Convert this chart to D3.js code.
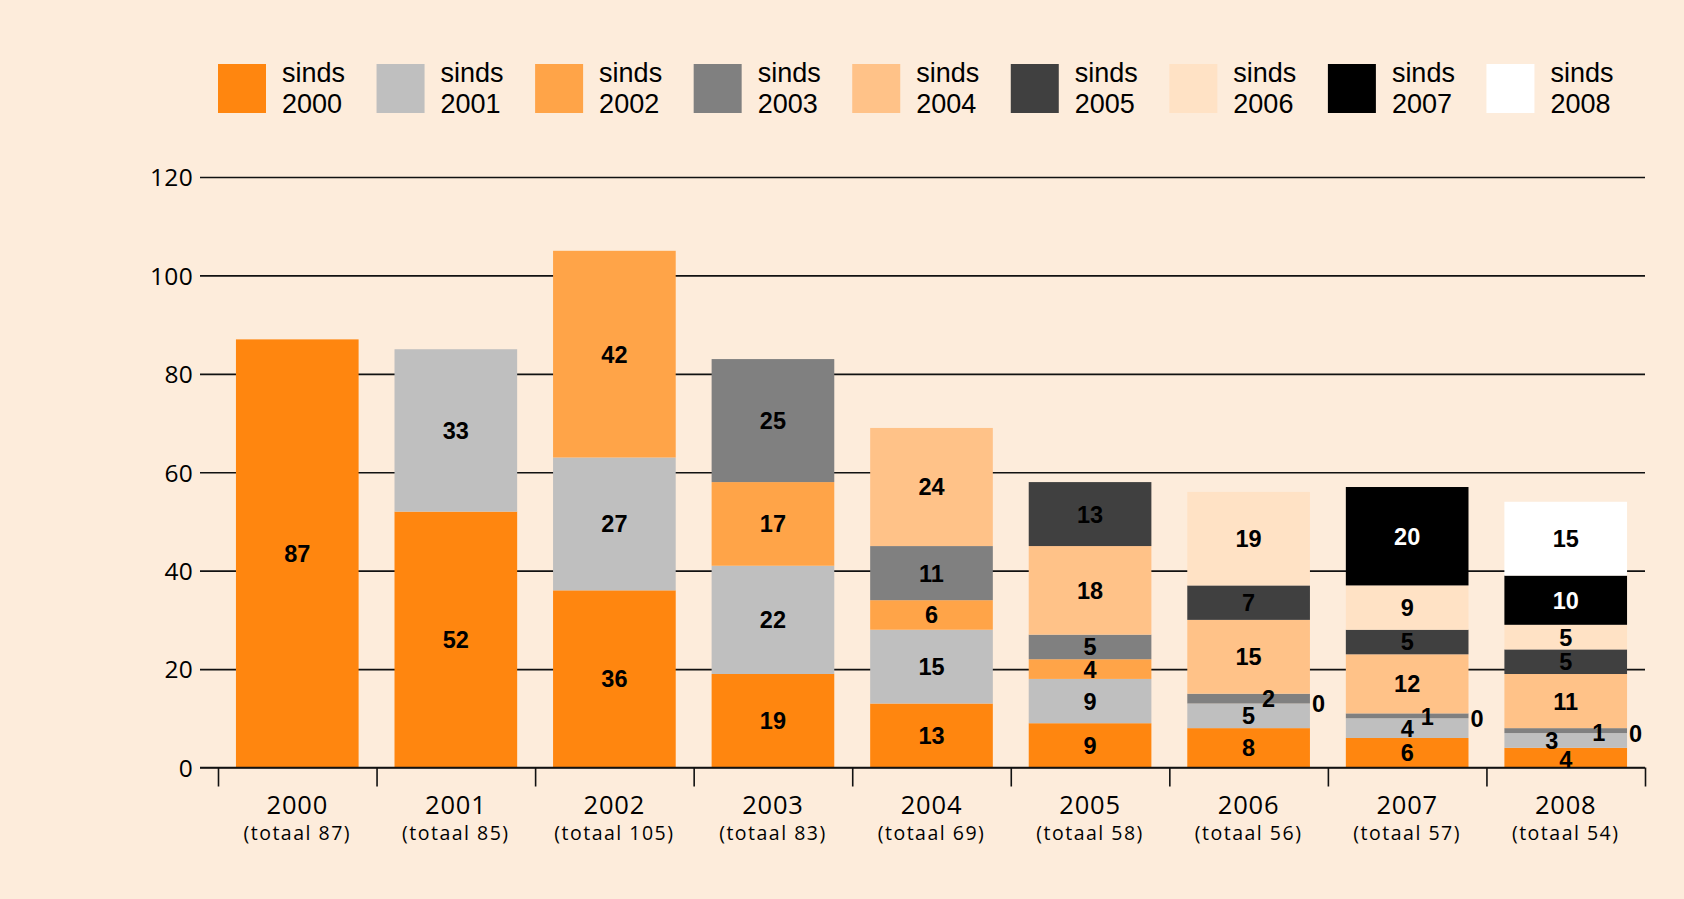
<!DOCTYPE html>
<html>
<head>
<meta charset="utf-8">
<script src="https://cdn.jsdelivr.net/npm/d3@7"></script>
<style>
  html, body { margin: 0; padding: 0; background: #FDECDB; }
  svg { display: block; }
</style>
</head>
<body>
<svg id="chart" width="1684" height="899"></svg>
<script>
// ---- data ----
const years = ["2000", "2001", "2002", "2003", "2004", "2005", "2006", "2007", "2008"];
const totals = [87, 85, 105, 83, 69, 58, 56, 57, 54];
const seriesNames = ["sinds 2000", "sinds 2001", "sinds 2002", "sinds 2003", "sinds 2004",
                     "sinds 2005", "sinds 2006", "sinds 2007", "sinds 2008"];
const sinds2000 = [87, 52, 36, 19, 13, 9, 8, 6, 4];
const sinds2001 = [null, 33, 27, 22, 15, 9, 5, 4, 3];
const sinds2002 = [null, null, 42, 17, 6, 4, 0, 0, 0];
const sinds2003 = [null, null, null, 25, 11, 5, 2, 1, 1];
const sinds2004 = [null, null, null, null, 24, 18, 15, 12, 11];
const sinds2005 = [null, null, null, null, null, 13, 7, 5, 5];
const sinds2006 = [null, null, null, null, null, null, 19, 9, 5];
const sinds2007 = [null, null, null, null, null, null, null, 20, 10];
const sinds2008 = [null, null, null, null, null, null, null, null, 15];
const yTicks = [0, 20, 40, 60, 80, 100, 120];

const seriesValues = [sinds2000, sinds2001, sinds2002, sinds2003, sinds2004,
                      sinds2005, sinds2006, sinds2007, sinds2008];

// ---- styles ----
const colors = ["#FF860F", "#BFBFBF", "#FFA448", "#808080", "#FFC288",
                "#404040", "#FFE2C5", "#000000", "#FFFFFF"];
const labelColors = ["#000", "#000", "#000", "#000", "#000", "#000", "#000", "#fff", "#000"];
// small manual nudges for crowded labels (key: yearIndex-seriesIndex)
const nudges = { "6-3": [20, 0], "7-3": [20, 1], "8-3": [33, 2], "8-1": [-14, 0], "8-0": [0, 2] };

const svg = d3.select("#chart");
const left = 200, right = 1645;
const x = d3.scaleBand().domain(years).range([218, 1645])
  .paddingInner(0.2264).paddingOuter(0.1132);
const y = d3.scaleLinear().domain([0, 120]).range([767.5, 177]);

const tableRows = years.map((yr, i) => {
  const row = { year: yr };
  seriesNames.forEach((s, j) => { row[s] = seriesValues[j][i] == null ? 0 : seriesValues[j][i]; });
  return row;
});
const stacked = d3.stack().keys(seriesNames)(tableRows);

const axisFont = "'Open Sans', 'Liberation Sans', sans-serif";

// gridlines / y axis
const yAxis = svg.append("g")
  .attr("transform", `translate(${left},0)`)
  .call(d3.axisLeft(y).tickValues(yTicks).tickSize(-(right - left)).tickPadding(7));
yAxis.select(".domain").remove();
yAxis.selectAll(".tick line").attr("stroke", "#111").attr("stroke-width", 1.6);
yAxis.selectAll(".tick text").attr("font-family", axisFont).attr("font-size", 24.5)
  .attr("letter-spacing", 0.3).attr("fill", "#000").attr("dy", "0.36em");

// bars
stacked.forEach((layer, j) => {
  svg.append("g").selectAll("rect")
    .data(layer.filter((d, i) => seriesValues[j][i] != null))
    .join("rect")
    .attr("x", d => x(d.data.year))
    .attr("width", x.bandwidth())
    .attr("y", d => y(d[1]))
    .attr("height", d => y(d[0]) - y(d[1]))
    .attr("fill", colors[j]);
});

// x axis ticks at band boundaries
const boundary = d3.scaleLinear().domain([0, years.length]).range(x.range());
const xAxis = svg.append("g")
  .attr("transform", `translate(0,${y(0)})`)
  .call(d3.axisBottom(boundary).tickValues(d3.range(years.length + 1)).tickSize(19).tickFormat(""));
xAxis.select(".domain").remove();
xAxis.selectAll(".tick line").attr("stroke", "#111").attr("stroke-width", 1.6);
// baseline over bars
svg.append("line").attr("x1", left).attr("x2", right).attr("y1", y(0)).attr("y2", y(0))
  .attr("stroke", "#111").attr("stroke-width", 1.6);

// x labels
const xl = svg.append("g");
years.forEach((yr, i) => {
  const cx = x(yr) + x.bandwidth() / 2;
  xl.append("text").attr("x", cx).attr("y", 814).attr("text-anchor", "middle")
    .attr("font-family", axisFont).attr("font-size", 25.5).attr("letter-spacing", 0.8)
    .attr("fill", "#000").text(yr);
  xl.append("text").attr("x", cx).attr("y", 840).attr("text-anchor", "middle")
    .attr("font-family", axisFont).attr("font-size", 19.5).attr("letter-spacing", 1.5)
    .attr("fill", "#000").text(`(totaal ${totals[i]})`);
});

// segment labels
const lab = svg.append("g").attr("font-family", "'Liberation Sans', Arial, sans-serif")
  .attr("font-weight", "bold").attr("font-size", 23.5);
stacked.forEach((layer, j) => {
  layer.forEach((d, i) => {
    const v = seriesValues[j][i];
    if (v == null) return;
    const yr = years[i];
    const nd = nudges[`${i}-${j}`] || [0, 0];
    if (v === 0) {
      lab.append("text").attr("x", x(yr) + x.bandwidth() + 2).attr("y", y(d[0]))
        .attr("dy", "0.36em").attr("text-anchor", "start").attr("fill", "#000").text(v);
    } else {
      lab.append("text").attr("x", x(yr) + x.bandwidth() / 2 + nd[0])
        .attr("y", (y(d[0]) + y(d[1])) / 2 + nd[1])
        .attr("dy", "0.36em").attr("text-anchor", "middle").attr("fill", labelColors[j]).text(v);
    }
  });
});

// legend
const legendFont = "'Liberation Sans', Arial, sans-serif";
const legend = svg.append("g");
seriesNames.forEach((s, j) => {
  const lx = x.range()[0] + j * x.step();
  const g = legend.append("g");
  g.append("rect").attr("x", lx).attr("y", 64).attr("width", 48).attr("height", 49)
    .attr("fill", colors[j]);
  const parts = s.split(" ");
  g.append("text").attr("x", lx + 64).attr("y", 82)
    .attr("font-family", legendFont).attr("font-size", 27).attr("fill", "#000").text(parts[0]);
  g.append("text").attr("x", lx + 64).attr("y", 113)
    .attr("font-family", legendFont).attr("font-size", 27).attr("fill", "#000").text(parts[1]);
});
</script>
</body>
</html>
